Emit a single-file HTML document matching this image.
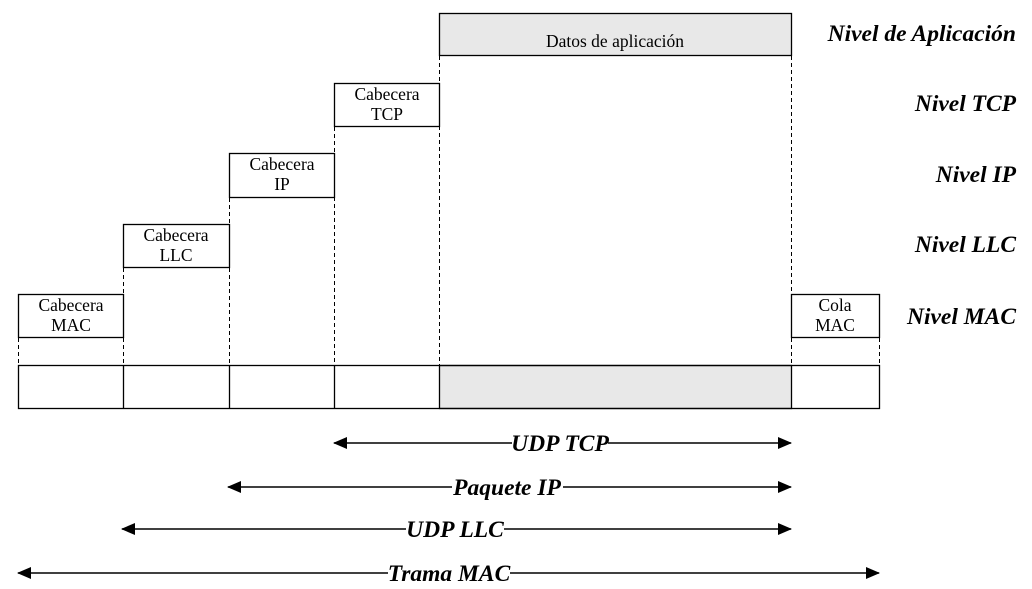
<!DOCTYPE html>
<html><head><meta charset="utf-8"><style>
html,body{margin:0;padding:0;background:#fff;}
svg{display:block;}
.b{font-family:"Liberation Serif","Times New Roman",serif;font-size:17.5px;fill:#000;}
.l{font-family:"Liberation Serif","Times New Roman",serif;font-size:23.5px;font-weight:bold;font-style:italic;fill:#000;}
</style></head><body>
<svg width="1032" height="589" viewBox="0 0 1032 589" xmlns="http://www.w3.org/2000/svg">
<defs>
<marker id="a" viewBox="0 0 14 12" refX="13" refY="6" markerWidth="14" markerHeight="12" markerUnits="userSpaceOnUse" orient="auto-start-reverse"><path d="M0,0 L14,6 L0,12 z" fill="#000"/></marker>
</defs>
<g stroke="#000" stroke-width="1.3" fill="none">
<rect x="439.5" y="13.5" width="352" height="42" fill="#e8e8e8"/>
<rect x="334.5" y="83.5" width="105" height="43" fill="#fff"/>
<rect x="229.5" y="153.5" width="105" height="44" fill="#fff"/>
<rect x="123.5" y="224.5" width="106" height="43" fill="#fff"/>
<rect x="18.5" y="294.5" width="105" height="43" fill="#fff"/>
<rect x="791.5" y="294.5" width="88" height="43" fill="#fff"/>
<rect x="439.5" y="365.5" width="352" height="43" fill="#e8e8e8"/>
<rect x="18.5" y="365.5" width="861" height="43"/>
<line x1="123.5" y1="365" x2="123.5" y2="408"/>
<line x1="229.5" y1="365" x2="229.5" y2="408"/>
<line x1="334.5" y1="365" x2="334.5" y2="408"/>
</g>
<g stroke="#000" stroke-width="1" stroke-dasharray="4,3">
<line x1="439.5" y1="56" x2="439.5" y2="365"/>
<line x1="791.5" y1="56" x2="791.5" y2="294"/>
<line x1="791.5" y1="338" x2="791.5" y2="365"/>
<line x1="334.5" y1="127" x2="334.5" y2="365"/>
<line x1="229.5" y1="198" x2="229.5" y2="365"/>
<line x1="123.5" y1="268" x2="123.5" y2="365"/>
<line x1="18.5" y1="338" x2="18.5" y2="365"/>
<line x1="879.5" y1="338" x2="879.5" y2="365"/>
</g>
<text class="b" x="615" y="47" text-anchor="middle">Datos de aplicación</text>
<text class="b" x="387" y="100" text-anchor="middle">Cabecera</text>
<text class="b" x="387" y="120" text-anchor="middle">TCP</text>
<text class="b" x="282" y="170" text-anchor="middle">Cabecera</text>
<text class="b" x="282" y="190" text-anchor="middle">IP</text>
<text class="b" x="176" y="241" text-anchor="middle">Cabecera</text>
<text class="b" x="176" y="261" text-anchor="middle">LLC</text>
<text class="b" x="71" y="311" text-anchor="middle">Cabecera</text>
<text class="b" x="71" y="331" text-anchor="middle">MAC</text>
<text class="b" x="835" y="311" text-anchor="middle">Cola</text>
<text class="b" x="835" y="331" text-anchor="middle">MAC</text>
<text class="l" x="1016" y="41" text-anchor="end">Nivel de Aplicación</text>
<text class="l" x="1016" y="111" text-anchor="end">Nivel TCP</text>
<text class="l" x="1016" y="182" text-anchor="end">Nivel IP</text>
<text class="l" x="1016" y="252" text-anchor="end">Nivel LLC</text>
<text class="l" x="1016" y="324" text-anchor="end">Nivel MAC</text>
<g stroke="#000" stroke-width="1.6">
<line x1="334" y1="443" x2="791" y2="443" marker-start="url(#a)" marker-end="url(#a)"/>
<line x1="228" y1="487" x2="791" y2="487" marker-start="url(#a)" marker-end="url(#a)"/>
<line x1="122" y1="529" x2="791" y2="529" marker-start="url(#a)" marker-end="url(#a)"/>
<line x1="18" y1="573" x2="879" y2="573" marker-start="url(#a)" marker-end="url(#a)"/>
</g>
<g fill="#fff">
<rect x="512" y="431" width="96" height="22"/>
<rect x="452" y="475" width="111" height="22"/>
<rect x="406" y="517" width="98" height="22"/>
<rect x="388" y="561" width="122" height="22"/>
</g>
<text class="l" x="560" y="451" text-anchor="middle">UDP TCP</text>
<text class="l" x="507" y="495" text-anchor="middle">Paquete IP</text>
<text class="l" x="455" y="537" text-anchor="middle">UDP LLC</text>
<text class="l" x="449" y="581" text-anchor="middle">Trama MAC</text>
</svg>
</body></html>
